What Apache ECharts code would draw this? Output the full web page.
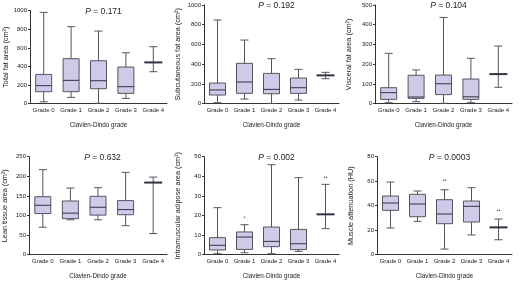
<!DOCTYPE html>
<html>
<head>
<meta charset="utf-8">
<script src="https://cdn.jsdelivr.net/npm/echarts@6/dist/echarts.min.js"></script>
<style>
  html, body { margin: 0; padding: 0; background: #fff; }
  #chart { width: 520px; height: 282px; }
</style>
</head>
<body>
<div id="chart"></div>
<script>
// categories shared by all six panels
const grades = ['Grade 0', 'Grade 1', 'Grade 2', 'Grade 3', 'Grade 4']

// box values per grade: [min, Q1, median, Q3, max]
const totalFat = [[20, 129, 194, 315, 982], [68, 129, 251, 484, 828], [5, 161, 247, 462, 781], [57, 111, 183, 394, 548], [344, 444, 444, 444, 613]]
const subcutFat = [[10, 88, 139, 209, 848], [47, 105, 220, 409, 645], [3, 101, 145, 307, 456], [37, 105, 162, 260, 348], [253, 287, 287, 287, 318]]
const visceralFat = [[5, 22, 56, 81, 255], [10, 27, 34, 144, 171], [2, 46, 101, 145, 437], [5, 22, 35, 125, 230], [83, 150, 150, 150, 292]]
const leanTissue = [[70, 105, 126, 148, 217], [89, 92, 106, 137, 170], [89, 101, 121, 149, 171], [74, 102, 115, 138, 210], [54, 184, 184, 184, 198]]
const intramuscular = [[0.5, 2.4, 4.8, 8.7, 24], [1, 2.7, 9, 11.6, 15.3], [0.5, 4.1, 6.8, 14.1, 45.9], [1.7, 2.6, 5.6, 12.9, 39.3], [13.3, 20.6, 20.6, 20.6, 35.9]]
const muscleAtten = [[21.8, 36.2, 42.2, 47.9, 59.3], [27.2, 31, 41.4, 49.3, 52], [4.6, 25.3, 33.2, 44.9, 53], [16.1, 26.7, 39.5, 43.8, 54.7], [12.2, 22.3, 22.3, 22.3, 29.1]]

// outliers: [grade index, value, marker]
const intramuscularOutliers = [[1, 19.2, '•'], [4, 39.3, '••']]
const muscleOutliers = [[2, 61, '••'], [4, 36, '••']]

// panel texts and axis ranges
const pValues = ['0.171', '0.192', '0.104', '0.632', '0.002', '0.0003']
const yNames = ['Total fat area (cm²)', 'Subcutaneous fat area (cm²)', 'Visceral fat area (cm²)', 'Lean tissue area (cm²)', 'Intramuscular adipose area (cm²)', 'Muscle attenuation (HU)']
const yMax = [1000, 1000, 500, 250, 50, 80]
const yStep = [200, 200, 100, 50, 10, 20]

const panels = [
  { data: totalFat, outliers: [], box: { left: 30, top: 10.7, width: 137, height: 93 } },
  { data: subcutFat, outliers: [], box: { left: 204, top: 5, width: 135, height: 98.7 } },
  { data: visceralFat, outliers: [], box: { left: 375, top: 5, width: 137, height: 98.7 } },
  { data: leanTissue, outliers: [], box: { left: 28, top: 156.7, width: 139, height: 98 } },
  { data: intramuscular, outliers: intramuscularOutliers, box: { left: 204, top: 156.7, width: 135, height: 98 } },
  { data: muscleAtten, outliers: muscleOutliers, box: { left: 377, top: 156.7, width: 135, height: 98 } },
]

const FONT = 'Liberation Sans, Arial, sans-serif'
const FILL = '#cdcbe8'
const LINE = '#555560'

// draws one box with whiskers (caps narrower than box)
function renderBox(params, api) {
  const x = api.value(0)
  const v = [1, 2, 3, 4, 5].map((i) => api.value(i))
  const pt = v.map((val) => api.coord([x, val]))
  const cx = pt[0][0]
  const bw = 16
  const cw = 8
  const flat = v[1] === v[3]
  const children = [
    { type: 'line', shape: { x1: cx, y1: pt[0][1], x2: cx, y2: pt[4][1] }, style: { stroke: LINE, lineWidth: 1 } },
    { type: 'line', shape: { x1: cx - cw / 2, y1: pt[0][1], x2: cx + cw / 2, y2: pt[0][1] }, style: { stroke: LINE, lineWidth: 1 } },
    { type: 'line', shape: { x1: cx - cw / 2, y1: pt[4][1], x2: cx + cw / 2, y2: pt[4][1] }, style: { stroke: LINE, lineWidth: 1 } },
  ]
  if (!flat) {
    children.push({ type: 'rect', shape: { x: cx - bw / 2, y: pt[3][1], width: bw, height: pt[1][1] - pt[3][1] }, style: { fill: FILL, stroke: LINE, lineWidth: 1 } })
  }
  children.push({
    type: 'line',
    shape: { x1: cx - (flat ? 9 : bw / 2), y1: pt[2][1], x2: cx + (flat ? 9 : bw / 2), y2: pt[2][1] },
    style: { stroke: '#333340', lineWidth: flat ? 2 : 1 },
  })
  return { type: 'group', children }
}

const grid = []
const xAxis = []
const yAxis = []
const series = []
const title = []

panels.forEach((p, i) => {
  grid.push(p.box)
  title.push({
    text: '{i|P} = ' + pValues[i],
    left: p.box.left + p.box.width / 2,
    top: p.box.top - 9,
    textAlign: 'center',
    textStyle: {
      fontFamily: FONT, fontSize: 8.5, fontWeight: 'normal', color: '#222',
      rich: { i: { fontFamily: FONT, fontSize: 8.5, fontStyle: 'italic', color: '#222' } },
    },
  })
  xAxis.push({
    type: 'category',
    gridIndex: i,
    data: grades,
    name: 'Clavien-Dindo grade',
    nameLocation: 'middle',
    nameGap: 19,
    nameTextStyle: { fontFamily: FONT, fontSize: 6.3, color: '#222' },
    axisLine: { lineStyle: { color: '#333', width: 1 } },
    axisTick: { alignWithLabel: true, length: 2, lineStyle: { color: '#333' } },
    axisLabel: { fontFamily: FONT, fontSize: 6, color: '#222', margin: 4, interval: 0 },
    splitLine: { show: false },
  })
  yAxis.push({
    type: 'value',
    gridIndex: i,
    min: 0,
    max: yMax[i],
    interval: yStep[i],
    name: yNames[i],
    nameLocation: 'middle',
    nameRotate: 90,
    nameGap: i === 0 || i === 3 ? 21 : 23,
    nameTextStyle: { fontFamily: FONT, fontSize: 7.3, color: '#222' },
    axisLine: { show: true, lineStyle: { color: '#333', width: 1 } },
    axisTick: { show: true, length: 2, lineStyle: { color: '#333' } },
    axisLabel: { fontFamily: FONT, fontSize: 6, color: '#222', margin: 3, formatter: (v) => String(v) },
    splitLine: { show: false },
  })
  series.push({
    type: 'custom',
    xAxisIndex: i,
    yAxisIndex: i,
    renderItem: renderBox,
    encode: { x: 0, y: [1, 2, 3, 4, 5] },
    data: p.data.map((d, k) => [k, ...d]),
    silent: true,
  })
  if (p.outliers.length) {
    series.push({
      type: 'scatter',
      xAxisIndex: i,
      yAxisIndex: i,
      symbolSize: 0,
      data: p.outliers.map((o) => ({ value: [o[0], o[1]], label: { formatter: o[2] } })),
      label: { show: true, position: 'inside', fontFamily: FONT, fontSize: 6, color: '#444' },
      silent: true,
    })
  }
})

const chart = echarts.init(document.getElementById('chart'))
chart.setOption({
  animation: false,
  backgroundColor: '#fff',
  title,
  grid,
  xAxis,
  yAxis,
  series,
})
</script>
</body>
</html>
